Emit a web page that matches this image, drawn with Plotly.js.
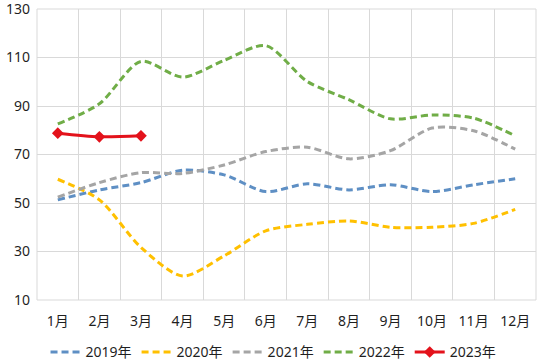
<!DOCTYPE html>
<html><head><meta charset="utf-8">
<script src="https://cdn.plot.ly/plotly-3.0.1.min.js"></script>
<style>html,body{margin:0;padding:0;background:#fff}#c{width:544px;height:362px}</style>
</head><body><div id="c"></div>
<script>
const months = ["1月","2月","3月","4月","5月","6月","7月","8月","9月","10月","11月","12月"];
const s2019 = [51.3,55.4,58.4,63.5,61.6,54.7,57.9,55.4,57.5,54.7,57.5,60.0];
const s2020 = [59.8,51.3,31.7,19.9,28.2,38.5,41.2,42.6,40.0,40.0,41.6,47.4];
const s2021 = [52.4,58.4,62.5,62.2,65.7,71.2,73.0,68.2,71.6,80.9,79.8,72.2];
const s2022 = [82.6,90.9,108.4,101.9,108.8,114.9,100.1,92.6,84.7,86.3,85.0,77.7];
const s2023 = [78.8,77.3,77.7];
const names = ["2019年","2020年","2021年","2022年","2023年"];
const yTicks = [10,30,50,70,90,110,130];

const dashed = (y, name, color) => ({
  x: months.slice(0, y.length), y, name, type: "scatter", mode: "lines",
  line: {color, width: 3, dash: "7px,4px", shape: "spline", smoothing: 0.8}
});
const traces = [
  dashed(s2019, names[0], "#5E8FC4"),
  dashed(s2020, names[1], "#FFC000"),
  dashed(s2021, names[2], "#A5A5A5"),
  dashed(s2022, names[3], "#70AD47"),
  {x: months.slice(0, s2023.length), y: s2023, name: names[4], type: "scatter", mode: "lines+markers",
   line: {color: "#E3121B", width: 3, shape: "spline", smoothing: 0.8},
   marker: {symbol: "diamond", size: 9, color: "#E3121B"}}
];
const font = {family: "Noto Sans, Noto Sans CJK SC, sans-serif", size: 14, color: "#1f1f1f"};
const layout = {
  width: 544, height: 362,
  margin: {l: 37, r: 8, t: 9, b: 62, autoexpand: false},
  paper_bgcolor: "#fff", plot_bgcolor: "#fff",
  font,
  showlegend: true,
  legend: {orientation: "h", x: 0.474, xanchor: "center", y: -0.125, yanchor: "top",
           font, itemwidth: 30, tracegroupgap: 0},
  xaxis: {type: "category", categoryorder: "array", categoryarray: months,
          range: [-0.5, 11.5], autorange: false, automargin: false,
          tickson: "boundaries", showgrid: true, gridcolor: "#D9D9D9", gridwidth: 1,
          ticks: "", showline: false, zeroline: false, tickfont: font, ticklabelstandoff: 11},
  yaxis: {range: [10, 130], autorange: false, automargin: false,
          tickmode: "array", tickvals: yTicks, ticktext: yTicks.map(String),
          ticklabeloverflow: "allow",
          showgrid: true, gridcolor: "#D9D9D9",
          zeroline: false, showline: false, ticks: "", tickfont: font, ticklabelstandoff: 6},
  shapes: [{type: "rect", xref: "paper", yref: "paper", x0: 0, x1: 1, y0: 0, y1: 1,
            line: {color: "#D9D9D9", width: 1}, layer: "below"}]
};
Plotly.newPlot("c", traces, layout, {displayModeBar: false, staticPlot: true});
</script>
</body></html>
